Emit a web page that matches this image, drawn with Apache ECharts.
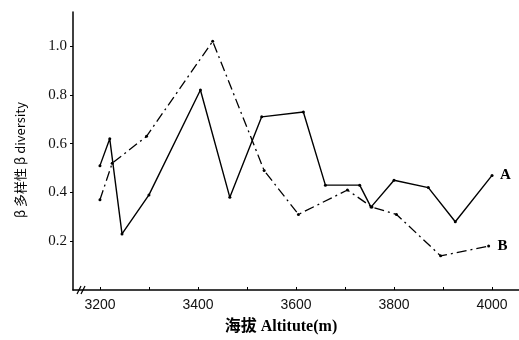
<!DOCTYPE html>
<html>
<head>
<meta charset="utf-8">
<script src="https://cdn.jsdelivr.net/npm/echarts@6/dist/echarts.min.js"></script>
<style>html,body{margin:0;padding:0;background:#fff}#c{width:519px;height:340px}</style>
</head>
<body>
<div id="c"></div>
<script>
// Altitude (m) and beta diversity for curve A (solid) and curve B (dash-dot)
const altA = [3200, 3220, 3245, 3300, 3405, 3465, 3530, 3615, 3660, 3730, 3753, 3800, 3870, 3925, 4000];
const divA = [0.51, 0.62, 0.23, 0.39, 0.82, 0.38, 0.71, 0.73, 0.43, 0.43, 0.34, 0.45, 0.42, 0.28, 0.47];
const altB = [3200, 3225, 3295, 3430, 3535, 3605, 3705, 3755, 3805, 3895, 3993];
const divB = [0.37, 0.52, 0.63, 1.02, 0.49, 0.31, 0.41, 0.34, 0.31, 0.14, 0.18];
const xTicks = [3200, 3300, 3400, 3500, 3600, 3700, 3800, 3900, 4000];
const xLabels = [3200, 3400, 3600, 3800, 4000];
const yTicks = [0.2, 0.4, 0.6, 0.8, 1.0];
const seriesNames = ['A', 'B'];
const xTitle = '海拔 Altitute(m)';
const yTitle = 'β 多样性 β diversity';

const chart = echarts.init(document.getElementById('c'), null, {renderer: 'canvas'});
const pairs = (xs, ys) => xs.map((x, i) => [x, ys[i]]);
const serif = '"Liberation Serif", "DejaVu Serif", serif';
const serifCjk = '"Liberation Serif", "Noto Sans CJK SC", serif';

chart.setOption({
  animation: false,
  backgroundColor: '#fff',
  grid: {left: 73, right: 0, top: 12, bottom: 48, containLabel: false},
  xAxis: {
    type: 'value', min: 3145, max: 4055,
    axisLine: {show: true, lineStyle: {color: '#000', width: 1.5}},
    axisTick: {show: true, inside: true, length: 3, customValues: xTicks, lineStyle: {color: '#000', width: 1}},
    axisLabel: {customValues: xLabels, color: '#111', fontSize: 14, margin: 8,
      fontFamily: '"Liberation Sans", Arial, sans-serif', formatter: v => String(v)},
    splitLine: {show: false},
    name: xTitle, nameLocation: 'middle', nameGap: 29,
    nameTextStyle: {color: '#000', fontSize: 16, fontFamily: serifCjk, fontWeight: 'bold', padding: [0, 30, 0, 0]}
  },
  yAxis: {
    type: 'value', min: 0, max: 1.14,
    axisLine: {show: true, lineStyle: {color: '#000', width: 1.5}},
    axisTick: {show: true, inside: false, length: 3, customValues: yTicks, lineStyle: {color: '#000', width: 1}},
    axisLabel: {customValues: yTicks, color: '#111', fontSize: 15, margin: 6, fontFamily: serif,
      formatter: v => v.toFixed(1)},
    splitLine: {show: false},
    name: yTitle, nameLocation: 'middle', nameGap: 46, nameRotate: 90,
    nameTextStyle: {color: '#000', fontSize: 13, fontFamily: '"Noto Sans CJK SC", sans-serif', padding: [0, 18, 0, 0]}
  },
  series: [
    {
      name: seriesNames[0], type: 'line', data: pairs(altA, divA),
      symbol: 'circle', symbolSize: 3, itemStyle: {color: '#000'},
      lineStyle: {color: '#000', width: 1.4, type: 'solid'},
      endLabel: {show: true, formatter: '{a}', distance: 8, color: '#000', fontSize: 15, fontWeight: 'bold', fontFamily: serif}
    },
    {
      name: seriesNames[1], type: 'line', data: pairs(altB, divB),
      symbol: 'circle', symbolSize: 3, itemStyle: {color: '#000'},
      lineStyle: {color: '#000', width: 1.3, type: [10, 4, 2, 4]},
      endLabel: {show: true, formatter: '{a}', distance: 9, color: '#000', fontSize: 15, fontWeight: 'bold', fontFamily: serif}
    }
  ],
  graphic: [
    {type: 'polyline', shape: {points: [[77, 294], [81, 286]]}, style: {stroke: '#000', lineWidth: 1.2}},
    {type: 'polyline', shape: {points: [[81, 294], [85, 286]]}, style: {stroke: '#000', lineWidth: 1.2}}
  ]
});
</script>
</body>
</html>
